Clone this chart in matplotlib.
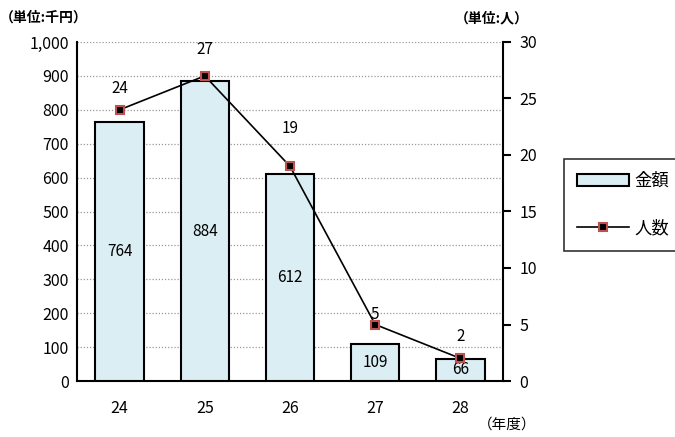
import matplotlib
matplotlib.use("Agg")
import matplotlib.pyplot as plt
from matplotlib.ticker import FuncFormatter, MultipleLocator

plt.rcParams['font.family'] = ['Noto Sans CJK JP', 'DejaVu Sans']

years = ['24', '25', '26', '27', '28']
amounts = [764, 884, 612, 109, 66]
people = [24, 27, 19, 5, 2]

fig = plt.figure(figsize=(6.75, 4.37), dpi=100)
ax = fig.add_axes([77/675, 1-381/437, (503-77)/675, (381-42)/437])
ax2 = ax.twinx()

x = list(range(len(years)))
bars = ax.bar(x, amounts, width=0.57, color='#DAEEF3', edgecolor='black', linewidth=1.5,
              label='金額', zorder=3)
for xi, v in zip(x, amounts):
    ax.text(xi, v/2, str(v), ha='center', va='center', fontsize=11, zorder=4)

ax.set_xlim(-0.5, 4.5)
ax.set_ylim(0, 1000)
ax.yaxis.set_major_locator(MultipleLocator(100))
ax.yaxis.set_major_formatter(FuncFormatter(lambda v, p: f'{int(v):,}'))
ax.set_xticks(x)
ax.set_xticklabels(years)
ax.grid(axis='y', linestyle=(0, (1, 1.5)), color='#999999', linewidth=0.9, zorder=0)
ax.tick_params(axis='x', length=0, pad=14, labelsize=11.5)
ax.tick_params(axis='y', length=0, pad=6, labelsize=11.5)
ax.spines['top'].set_visible(False)
ax.spines['left'].set_linewidth(1.5)
ax.spines['bottom'].set_linewidth(1.5)
ax.spines['right'].set_visible(False)

line, = ax2.plot(x, people, color='black', linewidth=1.2, marker='s', markersize=6,
                 markerfacecolor='black', markeredgecolor='#C0504D', markeredgewidth=1.5,
                 label='人数', zorder=5)
offsets = [15, 19, 27, 7, 16]
for xi, v, o in zip(x, people, offsets):
    ax2.annotate(str(v), (xi, v), xytext=(0, o), textcoords='offset points',
                 ha='center', va='center', fontsize=11)
ax2.set_ylim(0, 30)
ax2.yaxis.set_major_locator(MultipleLocator(5))
ax2.tick_params(axis='y', length=6, width=1.5, direction='out', pad=6, labelsize=11.5)
ax2.spines['top'].set_visible(False)
ax2.spines['left'].set_visible(False)
ax2.spines['bottom'].set_visible(False)
ax2.spines['right'].set_linewidth(1.5)

leg = fig.legend([bars, line], ['金額', '人数'], loc='upper left',
                 bbox_to_anchor=(564/675, 1-159/437), borderaxespad=0, frameon=True,
                 fancybox=False, edgecolor='black', fontsize=12.5, labelspacing=1.7,
                 handlelength=3.0, handletextpad=0.3, borderpad=0.75)
leg.get_frame().set_linewidth(1.2)

fig.text(0/675, 1-18/437, '（単位:千円）', fontsize=10, fontweight='bold', va='center', ha='left')
fig.text(455/675, 1-18/437, '（単位:人）', fontsize=10, fontweight='bold', va='center', ha='left')
fig.text(478/675, 1-425/437, '（年度）', fontsize=10.5, va='center', ha='left')

fig.savefig('out.png', dpi=100)
